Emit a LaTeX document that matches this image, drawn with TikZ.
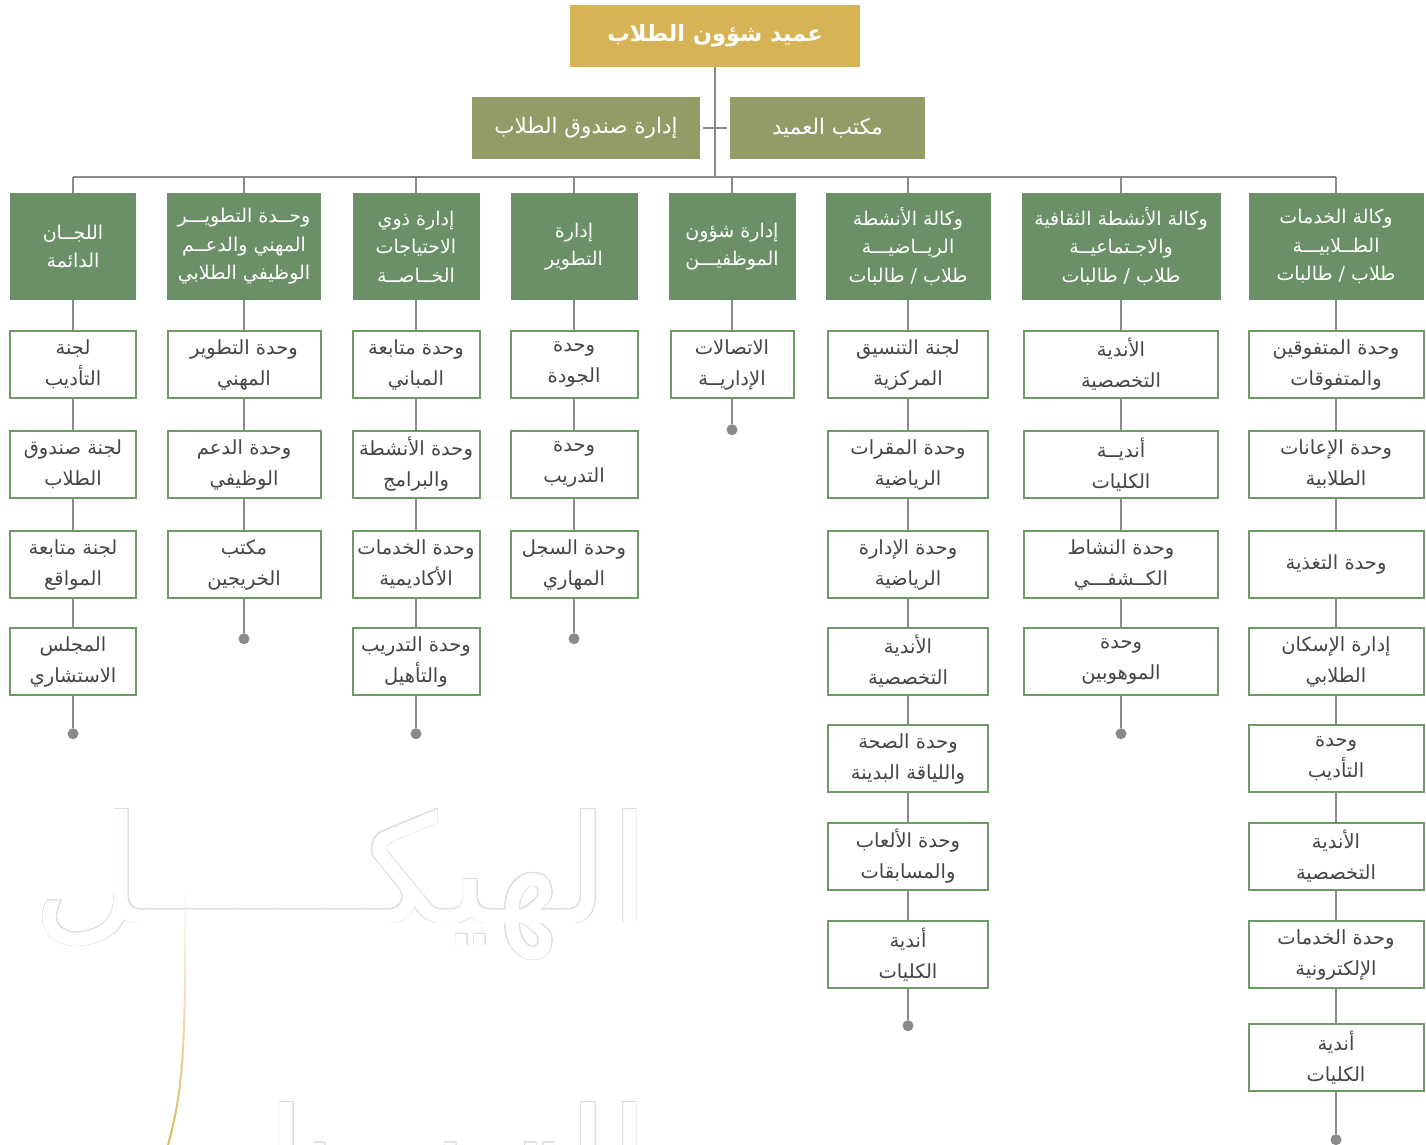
\documentclass[tikz,border=0pt]{standalone}
\usepackage{fontspec}
\usepackage{contour}
\usetikzlibrary{positioning,fadings}
\TeXXeTstate=1
\newfontfamily\arabicfont[Script=Arabic]{DejaVu Sans}
\newcommand\rl[1]{\beginR#1\endR}
\definecolor{deangold}{HTML}{D6B354}
\definecolor{officeolive}{HTML}{959B67}
\definecolor{headgreen}{HTML}{6B9068}
\definecolor{unitgreen}{HTML}{6E9A66}
\definecolor{unittext}{HTML}{454545}
\definecolor{linkgrey}{HTML}{8A8A8A}
\definecolor{wmgrey}{HTML}{DDDDDD}
\definecolor{wmgold}{HTML}{D9B75A}
% row centres: header row first, then the unit rows
\newcommand\rowpos{{246.5,364.5,464.5,564.5,661.5,758.5,856.5,954.5,1057.5}}
\contourlength{0.8pt}
\contournumber{40}

\begin{document}
\begin{tikzpicture}[x=1pt,y=-1pt,
    deanbox/.style={fill=deangold,text=white,minimum width=290pt,minimum height=62pt,inner sep=0pt,
        font=\arabicfont\bfseries\fontsize{22.5}{26}\selectfont},
    officebox/.style={fill=officeolive,text=white,minimum height=62pt,inner sep=0pt,
        font=\arabicfont\fontsize{21.5}{24}\selectfont},
    headbox/.style={fill=headgreen,text=white,align=center,minimum height=107pt,inner sep=0pt,
        font=\arabicfont\fontsize{19}{28.5}\selectfont},
    unitbox/.style={draw=unitgreen,line width=2pt,fill=white,text=unittext,align=center,
        minimum height=67pt,inner sep=0pt,font=\arabicfont\fontsize{19.5}{31}\selectfont},
    link/.style={draw=linkgrey,line width=2pt},
    enddot/.style={circle,fill=linkgrey,inner sep=0pt,minimum size=11pt},
    watermark/.style={inner sep=0pt,text=white,font=\arabicfont\fontsize{150}{150}\selectfont}]
\useasboundingbox (0,0) rectangle (1426,1145);
\clip (0,0) rectangle (1426,1145);

% Background title
\node[watermark,anchor=base east] (wmtop) at (651,923) {\contour{wmgrey}{\rl{الهيكـــــل}}};
\node[watermark,anchor=base east] (wmbot) at (651,1216) {\contour{wmgrey}{\rl{التـنـظـيمي}}};
\draw[wmgold,line width=2pt,path fading=north] (185,890) .. controls (186,1050) and (183,1090) .. (168,1145);

% Dean and his offices
\node[deanbox] (dean) at (715,36) {\rl{عميد شؤون الطلاب}};
\node[officebox,minimum width=228pt] (fund) at (586,128) {\rl{إدارة صندوق الطلاب}};
\node[officebox,minimum width=195pt] (office) at (827.5,128) {\rl{مكتب العميد}};
\coordinate (bus) at (715,177);
\draw[link] (dean) -- (bus);
\draw[link,shorten <=3pt,shorten >=3pt] (fund) -- (office);

% Column heads
\node[headbox,minimum width=126pt,alias=c1r0] (h1) at (73,246.5) {\rl{اللجــان}\\\rl{الدائمة}};
\node[headbox,minimum width=154pt,alias=c2r0] (h2) at (244,246.5) {\rl{وحــدة التطويـــر}\\\rl{المهني والدعــم}\\\rl{الوظيفي الطلابي}};
\node[headbox,minimum width=127pt,alias=c3r0] (h3) at (416,246.5) {\rl{إدارة ذوي}\\\rl{الاحتياجات}\\\rl{الخــاصــة}};
\node[headbox,minimum width=127pt,alias=c4r0] (h4) at (574,246.5) {\rl{إدارة}\\\rl{التطوير}};
\node[headbox,minimum width=127pt,alias=c5r0] (h5) at (732,246.5) {\rl{إدارة شؤون}\\\rl{الموظفيـــن}};
\node[headbox,minimum width=165pt,alias=c6r0] (h6) at (908,246.5) {\rl{وكالة الأنشطة}\\\rl{الريــاضيـــة}\\\rl{طلاب / طالبات}};
\node[headbox,minimum width=199pt,alias=c7r0] (h7) at (1121,246.5) {\rl{وكالة الأنشطة الثقافية}\\\rl{والاجـتماعيــة}\\\rl{طلاب / طالبات}};
\node[headbox,minimum width=175pt,alias=c8r0] (h8) at (1336,246.5) {\rl{وكالة الخدمات}\\\rl{الطــلابيـــة}\\\rl{طلاب / طالبات}};

% Bus to the heads
\draw[link] (h1.north |- bus) -- (h8.north |- bus);
\foreach \col in {1,...,8}
    \draw[link] (h\col.north |- bus) -- (h\col);

% Standing committees
\foreach \r/\lineone/\linetwo in {1/لجنة/التأديب, 2/لجنة صندوق/الطلاب, 3/لجنة متابعة/المواقع, 4/المجلس/الاستشاري} {
    \pgfmathsetmacro\y{\rowpos[\r]}
    \node[unitbox,minimum width=126pt] (c1r\r) at (73,\y) {\rl{\lineone}\\\rl{\linetwo}};
}
% Professional development
\foreach \r/\lineone/\linetwo in {1/وحدة التطوير/المهني, 2/وحدة الدعم/الوظيفي, 3/مكتب/الخريجين} {
    \pgfmathsetmacro\y{\rowpos[\r]}
    \node[unitbox,minimum width=153pt] (c2r\r) at (244,\y) {\rl{\lineone}\\\rl{\linetwo}};
}
% Special needs
\foreach \r/\lineone/\linetwo in {1/وحدة متابعة/المباني, 2/وحدة الأنشطة/والبرامج, 3/وحدة الخدمات/الأكاديمية, 4/وحدة التدريب/والتأهيل} {
    \pgfmathsetmacro\y{\rowpos[\r]}
    \node[unitbox,minimum width=127pt] (c3r\r) at (416,\y) {\rl{\lineone}\\\rl{\linetwo}};
}
% Development
\foreach \r/\lineone/\linetwo in {1/وحدة/الجودة, 2/وحدة/التدريب, 3/وحدة السجل/المهاري} {
    \pgfmathsetmacro\y{\rowpos[\r]}
    \node[unitbox,minimum width=127pt] (c4r\r) at (574,\y) {\rl{\lineone}\\\rl{\linetwo}};
}
% Staff affairs
\node[unitbox,minimum width=123pt] (c5r1) at (732,364.5) {\rl{الاتصالات}\\\rl{الإداريــة}};
% Sports activities
\foreach \r/\lineone/\linetwo in {1/لجنة التنسيق/المركزية, 2/وحدة المقرات/الرياضية, 3/وحدة الإدارة/الرياضية, 4/الأندية/التخصصية, 5/وحدة الصحة/واللياقة البدينة, 6/وحدة الألعاب/والمسابقات, 7/أندية/الكليات} {
    \pgfmathsetmacro\y{\rowpos[\r]}
    \node[unitbox,minimum width=160pt] (c6r\r) at (908,\y) {\rl{\lineone}\\\rl{\linetwo}};
}
% Cultural and social activities
\foreach \r/\lineone/\linetwo in {1/الأندية/التخصصية, 2/أنديــة/الكليات, 3/وحدة النشاط/الكــشفـــي, 4/وحدة/الموهوبين} {
    \pgfmathsetmacro\y{\rowpos[\r]}
    \node[unitbox,minimum width=194pt] (c7r\r) at (1121,\y) {\rl{\lineone}\\\rl{\linetwo}};
}
% Student services
\foreach \r/\lineone/\linetwo in {1/وحدة المتفوقين/والمتفوقات, 2/وحدة الإعانات/الطلابية, 4/إدارة الإسكان/الطلابي, 5/وحدة/التأديب, 6/الأندية/التخصصية, 7/وحدة الخدمات/الإلكترونية, 8/أندية/الكليات} {
    \pgfmathsetmacro\y{\rowpos[\r]}
    \node[unitbox,minimum width=175pt] (c8r\r) at (1336,\y) {\rl{\lineone}\\\rl{\linetwo}};
}
\node[unitbox,minimum width=175pt] (c8r3) at (1336,564.5) {\rl{وحدة التغذية}};

% Links down each column, ending in a dot
\foreach \col/\n/\gap in {1/4/32, 2/3/34, 3/4/32, 4/3/34, 5/1/25, 6/7/31, 7/4/32, 8/8/42} {
    \foreach \r [remember=\r as \p (initially 0)] in {1,...,\n}
        \draw[link] (c\col r\p) -- (c\col r\r);
    \node[enddot,below=\gap pt of c\col r\n] (d\col) {};
    \draw[link] (c\col r\n) -- (d\col);
}
\end{tikzpicture}
\end{document}
